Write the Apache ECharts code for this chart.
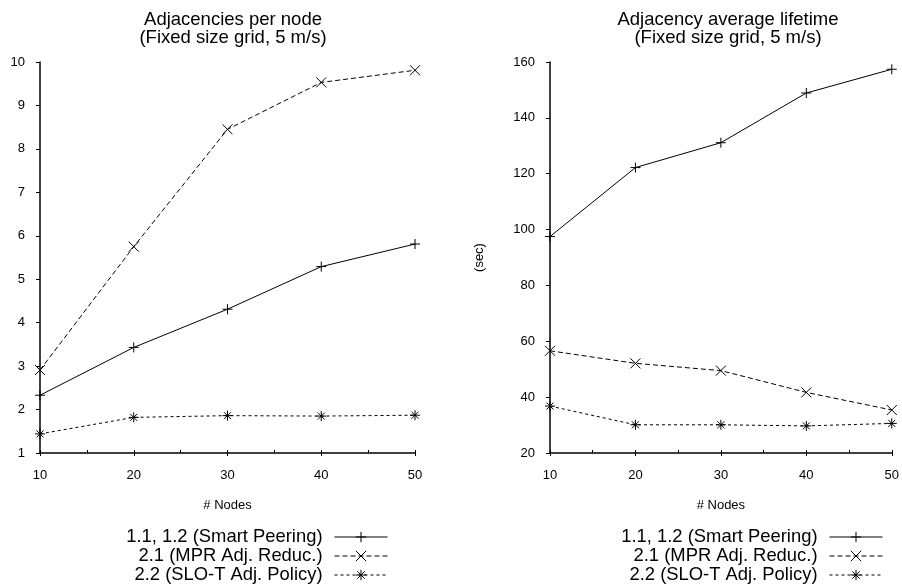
<!DOCTYPE html>
<html>
<head>
<meta charset="utf-8">
<script src="https://cdn.jsdelivr.net/npm/echarts@6/dist/echarts.min.js"></script>
<style>html,body{margin:0;padding:0;background:#fff;}#c{width:902px;height:588px;}</style>
</head>
<body>
<div id="c"></div>
<script>
const nodes = [10, 20, 30, 40, 50];
const seriesNames = ['1.1, 1.2 (Smart Peering)', '2.1 (MPR Adj. Reduc.)', '2.2 (SLO-T Adj. Policy)'];
const adjSmart = [2.33, 3.43, 4.31, 5.29, 5.81];
const adjMPR = [2.91, 5.75, 8.45, 9.53, 9.81];
const adjSLOT = [1.44, 1.82, 1.86, 1.85, 1.87];
const lifeSmart = [97.5, 122.2, 131.1, 148.9, 157.4];
const lifeMPR = [56.6, 52.1, 49.5, 41.7, 35.4];
const lifeSLOT = [36.8, 30.1, 30.1, 29.7, 30.6];
const leftTitle = 'Adjacencies per node\n(Fixed size grid, 5 m/s)';
const rightTitle = 'Adjacency average lifetime\n(Fixed size grid, 5 m/s)';

const FONT = 'Liberation Sans, Arial, Helvetica, sans-serif';
const symPlus = 'path://M5,0L5,10M0,5L10,5';
const symCross = 'path://M0,0L10,10M0,10L10,0';
const symStar = 'path://M5,0L5,10M0,5L10,5M1.5,1.5L8.5,8.5M1.5,8.5L8.5,1.5';
const symbols = [symPlus, symCross, symStar];
const dashes = ['solid', [5, 3], [3, 3]];

function pairs(vals) { return nodes.map((n, i) => [n, vals[i]]); }

function mkSeries(name, vals, idx, gi) {
  return {
    type: 'line', name: name, xAxisIndex: gi * 2, yAxisIndex: gi,
    data: pairs(vals), symbol: symbols[idx], symbolSize: 10,
    showAllSymbol: true, animation: false,
    lineStyle: { color: '#000', width: 1, type: dashes[idx] },
    itemStyle: { color: '#000', borderColor: '#000', borderWidth: 1 },
    emphasis: { disabled: true }
  };
}

const grids = [
  { left: 40, right: 487, top: 62, bottom: 135 },
  { left: 550, right: 7, top: 62, bottom: 135 }
];

function xAxes(gi) {
  return [
    {
      type: 'value', gridIndex: gi, position: 'bottom', min: 10, max: 50, interval: 10,
      name: '# Nodes', nameLocation: 'middle', nameGap: 46,
      nameTextStyle: { fontFamily: FONT, fontSize: 13, color: '#000' },
      axisLine: { lineStyle: { color: '#000', width: 1.5 } },
      axisTick: { show: true, inside: false, length: 3, lineStyle: { color: '#000' } },
      axisLabel: { fontFamily: FONT, fontSize: 13, color: '#000', margin: 16 },
      splitLine: { show: false }
    },
    {
      type: 'value', gridIndex: gi, position: 'bottom', min: 10, max: 50, interval: 5,
      axisLine: { show: false },
      axisTick: { show: true, inside: true, length: 3, lineStyle: { color: '#000' } },
      axisLabel: { show: false },
      splitLine: { show: false }
    }
  ];
}

function yAxis(gi, min, max, interval, name) {
  return {
    type: 'value', gridIndex: gi, min: min, max: max, interval: interval,
    name: name, nameLocation: 'middle', nameGap: 64, nameRotate: 90,
    nameTextStyle: { fontFamily: FONT, fontSize: 13, color: '#000' },
    axisLine: { show: true, lineStyle: { color: '#000', width: 1.5 } },
    axisTick: { show: true, inside: false, length: 4, lineStyle: { color: '#000' } },
    axisLabel: { fontFamily: FONT, fontSize: 13, color: '#000', margin: 15 },
    splitLine: { show: false }
  };
}

const legendRows = [537, 556, 575];
const legends = [];
const legendRights = [902 - 388, 902 - 883];
legendRights.forEach((r) => {
  seriesNames.forEach((nm, i) => {
    legends.push({
      data: [nm], right: r, top: legendRows[i] - 9, align: 'right',
      itemWidth: 53, itemHeight: 13, padding: 0, selectedMode: false,
      itemStyle: { color: '#000', borderColor: '#000', borderWidth: 1 },
      lineStyle: { color: '#000', width: 1 },
      textStyle: { fontFamily: FONT, fontSize: 18.4, color: '#000', padding: [0, 7, 0, 0] }
    });
  });
});

const chart = echarts.init(document.getElementById('c'), null, { renderer: 'canvas' });
chart.setOption({
  animation: false,
  backgroundColor: '#fff',
  title: [
    { text: leftTitle, left: 228, top: 6, textAlign: 'center',
      textStyle: { fontFamily: FONT, fontSize: 18.5, fontWeight: 'normal', color: '#000', lineHeight: 18 } },
    { text: rightTitle, left: 723, top: 6, textAlign: 'center',
      textStyle: { fontFamily: FONT, fontSize: 18.5, fontWeight: 'normal', color: '#000', lineHeight: 18 } }
  ],
  grid: grids,
  xAxis: xAxes(0).concat(xAxes(1)),
  yAxis: [yAxis(0, 1, 10, 1, ''), yAxis(1, 20, 160, 20, '(sec)')],
  legend: legends,
  series: [
    mkSeries(seriesNames[0], adjSmart, 0, 0),
    mkSeries(seriesNames[1], adjMPR, 1, 0),
    mkSeries(seriesNames[2], adjSLOT, 2, 0),
    mkSeries(seriesNames[0], lifeSmart, 0, 1),
    mkSeries(seriesNames[1], lifeMPR, 1, 1),
    mkSeries(seriesNames[2], lifeSLOT, 2, 1)
  ]
});
</script>
</body>
</html>
